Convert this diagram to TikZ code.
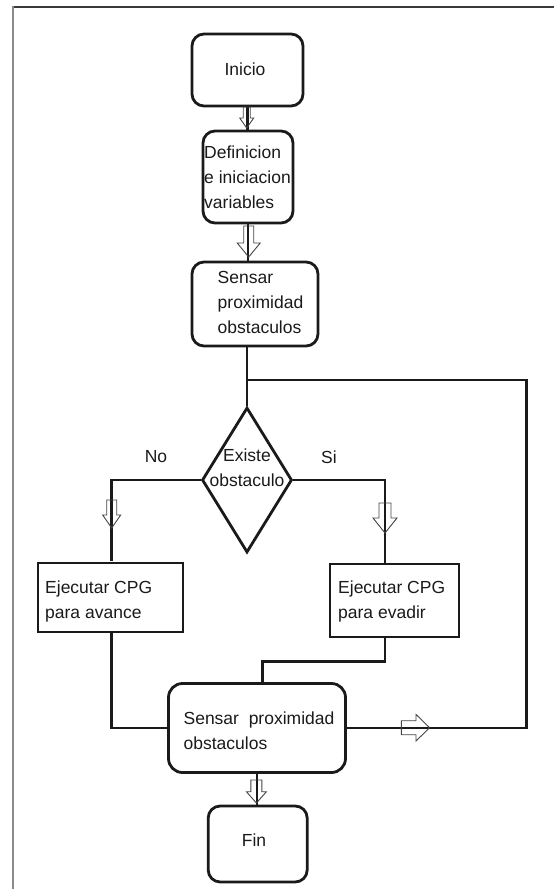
\documentclass[tikz,border=0pt]{standalone}
\usepackage{fontspec}
\setmainfont{Liberation Sans}
\usetikzlibrary{shapes.geometric}
\definecolor{ink}{HTML}{1A1A1A}
\definecolor{arrowgray}{HTML}{444444}
\definecolor{frametop}{HTML}{3A3A3A}
\definecolor{frameleft}{HTML}{8A8A8A}
% hollow block arrow pointing down: x, ytop, yheadstart, shaft half width, head half width, ytip
\newcommand\hvdown[6]{\draw[hollow] ({#1-#4},#2) -- ({#1-#4},#3) -- ({#1-#5},#3) -- (#1,#6) -- ({#1+#5},#3) -- ({#1+#4},#3) -- ({#1+#4},#2) -- cycle;}
% hollow block arrow pointing right: y, xstart, xheadstart, shaft half height, head half height, xtip
\newcommand\hvright[6]{\draw[hollow] (#2,{#1-#4}) -- (#3,{#1-#4}) -- (#3,{#1-#5}) -- (#6,#1) -- (#3,{#1+#5}) -- (#3,{#1+#4}) -- (#2,{#1+#4}) -- cycle;}
\begin{document}
\begin{tikzpicture}[x=1pt,y=-1pt,
  box/.style={draw=ink, line width=2.8pt, rounded corners=12pt, inner sep=0pt},
  sqbox/.style={draw=ink, line width=2.8pt, inner sep=0pt},
  txt/.style={text=ink, inner sep=0pt, align=left, font=\fontsize{17.5}{25}\selectfont},
  conn/.style={draw=ink, line width=2.8pt},
  hollow/.style={draw=arrowgray, line width=0.9pt, line join=miter}]
\path[use as bounding box] (0,0) rectangle (554,889);
% frame
\coordinate (ftl) at (12,6.5);
\coordinate (ftr) at (554,6.5);
\coordinate (fl1) at (13,6);
\coordinate (fl2) at (13,889);
\draw[frametop, line width=2pt] (ftl) -- (ftr);
\draw[frameleft, line width=2.5pt] (fl1) -- (fl2);

% boxes
\node[box, minimum width=111pt, minimum height=72pt] (ini) at (247.5,70) {};
\node[box, minimum width=90pt, minimum height=92pt] (def) at (248,177) {};
\node[box, minimum width=126pt, minimum height=84pt] (s1) at (255,304) {};
\node[draw=ink, line width=2.8pt, diamond, inner sep=0pt, minimum width=90pt, minimum height=145pt] (dia) at (247,480) {};
\node[sqbox, minimum width=145pt, minimum height=69pt] (b1) at (110.4,597.5) {};
\node[sqbox, minimum width=129pt, minimum height=73pt] (b2) at (394.5,600.5) {};
\node[box, minimum width=177pt, minimum height=89pt, rounded corners=14pt] (s2) at (257,728) {};
\node[box, minimum width=99pt, minimum height=76pt] (fin) at (257.7,844) {};

% texts
\node[txt] (iniT) at (245,69) {Inicio};
\node[txt, anchor=west] (defT) at (204,177) {Definicion\\e iniciacion\\variables};
\node[txt, anchor=west] (s1T) at (217.5,302.5) {Sensar\\proximidad\\obstaculos};
\node[txt, align=center] (diaT) at (247,468) {Existe\\obstaculo};
\node[txt] (noT) at (156,457) {No};
\node[txt] (siT) at (329,457) {Si};
\node[txt, anchor=west] (b1T) at (45,601) {Ejecutar CPG\\para avance};
\node[txt, anchor=west] (b2T) at (338,601) {Ejecutar CPG\\para evadir};
\node[txt, anchor=west] (s2T) at (183.4,730.5) {Sensar~~proximidad\\obstaculos};
\node[txt] (finT) at (254,840) {Fin};

% connector helper coordinates
\coordinate (s1out) at (247.7,380);
\coordinate (loopR) at (526.7,380);
\coordinate (b1in) at (111.7,561);
\coordinate (b1out) at (111.7,633);
\coordinate (b2in) at (385,564);
\coordinate (b2out) at (385,638);
\coordinate (b2turn) at (385,661.7);
\coordinate (s2inA) at (262.8,661.7);
\coordinate (s2in) at (262.8,683);
\coordinate (b1turn) at (111.7,728);

% connectors
\draw[conn] (ini.south) -- (ini.south |- def.north);
\draw[conn] (def.south) -- (def.south |- s1.north);
\draw[conn] (dia.north |- s1.south) -- (dia.north);
\draw[conn] (s2.east) -| (loopR) -- (s1out);
\draw[conn] (dia.west) -| (b1in);
\draw[conn] (dia.east) -| (b2in);
\draw[conn] (b2out) -- (b2turn) -- (s2inA) -- (s2in);
\draw[conn] (b1out) -- (b1turn) -- (s2.west);
\draw[conn] (s2.south) -- (s2.south |- fin.north);

% hollow arrows
\hvdown{246.7}{107}{118}{3.5}{7}{128}
\hvdown{248.7}{226}{243}{5}{11.5}{257}
\hvdown{111.7}{500}{515}{5}{9}{528}
\hvdown{385}{503}{518}{6}{12}{533}
\hvright{727.7}{401.4}{416}{7}{13.3}{429.6}
\hvdown{256.4}{780}{791.7}{5.5}{10}{803}
\end{tikzpicture}
\end{document}
